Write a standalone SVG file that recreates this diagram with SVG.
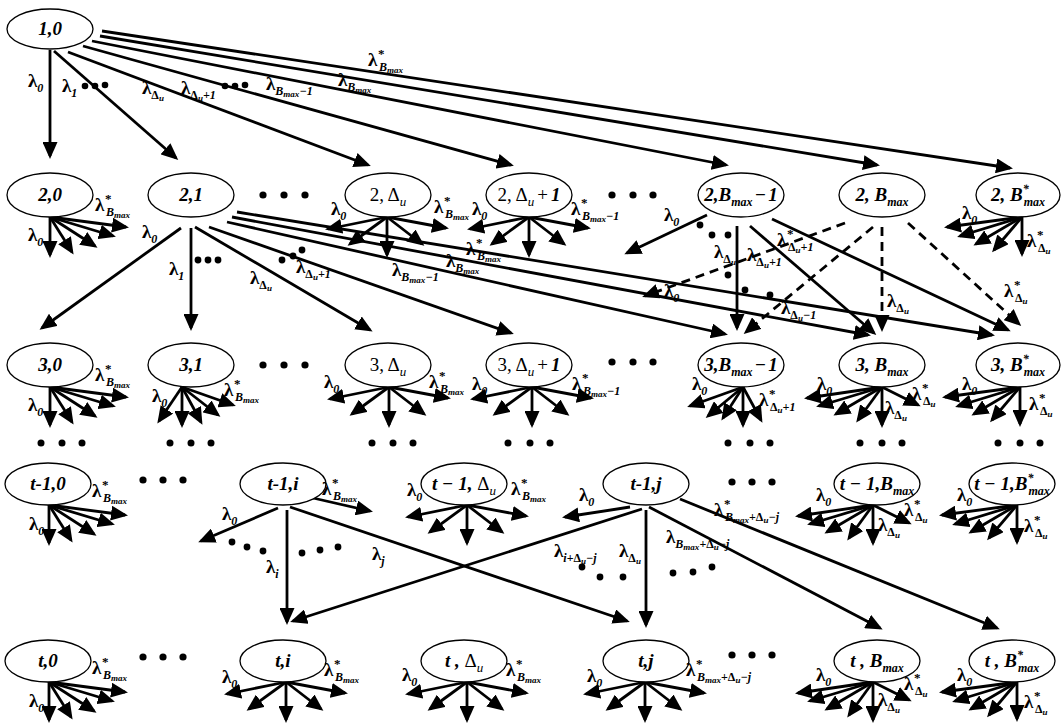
<svg xmlns="http://www.w3.org/2000/svg" width="1061" height="726" viewBox="0 0 1061 726">
<style>
.n{fill:#fff;stroke:#000;stroke-width:1.3}
.a{fill:none;stroke:#000;stroke-width:2.8;marker-end:url(#ah)}
.d{stroke-dasharray:9 6}
.dt{fill:#000}
text{font-family:'Liberation Serif','Times New Roman',serif;fill:#000}
.t{font-size:19px;font-weight:bold;font-style:italic;text-anchor:middle}
.r{font-weight:normal;font-style:normal}
.bi{font-weight:bold;font-style:italic}
.m{font-size:12px;font-style:italic;font-weight:bold}
.mi{font-size:13px;font-style:italic;font-weight:normal}
.l{font-size:19px;font-weight:bold}
.s{font-size:12px;font-style:italic}
.u{font-size:12px;font-style:normal}
.ss{font-size:9px;font-style:italic}
.p{font-size:13px}
</style>
<defs>
<marker id="ah" markerUnits="userSpaceOnUse" markerWidth="17" markerHeight="15" refX="14" refY="7.5" orient="auto"><path d="M0,0 L17,7.5 L0,15 z" fill="#000"/></marker>
<g id="fA"><path class="a" d="M0,0L0,38"/><path class="a" d="M0,0L22,35"/><path class="a" d="M0,0L45,29"/><path class="a" d="M0,0L63,19"/><path class="a" d="M0,0L76,10"/></g>
<g id="fB"><path class="a" d="M0,0L-23,34"/><path class="a" d="M0,0L0,38"/><path class="a" d="M0,0L19,35"/><path class="a" d="M0,0L36,28"/><path class="a" d="M0,0L51,18"/></g>
<g id="fC"><path class="a" d="M0,0L-59,12"/><path class="a" d="M0,0L-37,27"/><path class="a" d="M0,0L0,38"/><path class="a" d="M0,0L35,27"/><path class="a" d="M0,0L59,11"/></g>
<g id="fD"><path class="a" d="M0,0L-75,10"/><path class="a" d="M0,0L-62,19"/><path class="a" d="M0,0L-46,27"/><path class="a" d="M0,0L-28,33"/><path class="a" d="M0,0L0,37"/></g>
<g id="fE"><path class="a" d="M0,0L-75,11"/><path class="a" d="M0,0L-63,19"/><path class="a" d="M0,0L-46,27"/><path class="a" d="M0,0L-24,33"/><path class="a" d="M0,0L0,38"/><path class="a" d="M0,0L36,18"/></g>
<g id="fF"><path class="a" d="M0,0L-53,19"/><path class="a" d="M0,0L-35,29"/><path class="a" d="M0,0L-20,31"/><path class="a" d="M0,0L0,38"/><path class="a" d="M0,0L18,33"/></g>
</defs>
<rect width="1061" height="726" fill="#fff"/>
<g id="connectors">
<path class="a" d="M50,50L50,156"/>
<path class="a" d="M54,51L176,158"/>
<path class="a" d="M68,52L368,165"/>
<path class="a" d="M83,46L511,165"/>
<path class="a" d="M92,41L726,165"/>
<path class="a" d="M100,36L877,165"/>
<path class="a" d="M102,31L1010,168"/>
<path class="a" d="M181,228L42,328"/>
<path class="a" d="M191,228L191,328"/>
<path class="a" d="M195,227L370,330"/>
<path class="a" d="M209,227L511,333"/>
<path class="a" d="M237,212L992,335"/>
<path class="a" d="M232,217L868,335"/>
<path class="a" d="M227,222L725,334"/>
<path class="a" d="M707,215L627,253"/>
<path class="a" d="M737,226L737,328"/>
<path class="a" d="M750,226L874,333"/>
<path class="a" d="M772,219L1008,330"/>
<path class="a d" d="M845,223L645,296"/>
<path class="a d" d="M873,227L746,332"/>
<path class="a d" d="M882,227L882,329"/>
<path class="a d" d="M908,223L1019,324"/>
<path class="a" d="M278,508L201,541"/>
<path class="a" d="M287,510L287,622"/>
<path class="a" d="M313,498L370,511"/>
<path class="a" d="M290,507L627,621"/>
<path class="a" d="M630,507L565,517"/>
<path class="a" d="M642,509L293,621"/>
<path class="a" d="M646,510L646,625"/>
<path class="a" d="M649,507L880,628"/>
<path class="a" d="M680,499L997,628"/>
<use href="#fA" x="50" y="217"/>
<use href="#fA" x="50" y="387"/>
<use href="#fA" x="49" y="505"/>
<use href="#fA" x="49" y="682"/>
<use href="#fB" x="182" y="387"/>
<use href="#fC" x="387" y="217"/>
<use href="#fC" x="529" y="217"/>
<use href="#fC" x="389" y="387"/>
<use href="#fC" x="532" y="387"/>
<use href="#fC" x="467" y="505"/>
<use href="#fC" x="467" y="682"/>
<use href="#fC" x="286" y="682"/>
<use href="#fC" x="645" y="682"/>
<use href="#fD" x="1022" y="217"/>
<use href="#fD" x="1020" y="387"/>
<use href="#fD" x="1017" y="505"/>
<use href="#fD" x="1017" y="682"/>
<use href="#fE" x="882" y="387"/>
<use href="#fE" x="873" y="505"/>
<use href="#fE" x="873" y="682"/>
<use href="#fF" x="743" y="387"/>
</g>
<g id="n-1-0"><ellipse class="n" cx="50" cy="29" rx="43" ry="20"/><text class="t" x="50" y="35">1,0</text></g>
<g id="n-2-0"><ellipse class="n" cx="50" cy="195" rx="43" ry="22"/><text class="t" x="50" y="201">2,0</text></g>
<g id="n-2-1"><ellipse class="n" cx="191" cy="195" rx="43" ry="22"/><text class="t" x="191" y="201">2,1</text></g>
<g id="n-2-du"><ellipse class="n" cx="388" cy="195" rx="43" ry="22"/><text class="t r" x="388" y="201">2, Δ<tspan class="mi" dy="5">u</tspan></text></g>
<g id="n-2-du1"><ellipse class="n" cx="529" cy="195" rx="43" ry="22"/><text class="t r" x="529" y="201">2, Δ<tspan class="mi" dy="5">u</tspan><tspan dx="3" dy="-5">+</tspan><tspan class="bi" dx="3">1</tspan></text></g>
<g id="n-2-bm1"><ellipse class="n" cx="741" cy="195" rx="43" ry="22"/><text class="t" x="741" y="201">2,B<tspan class="m" dy="5">max</tspan><tspan dx="2" dy="-5">−</tspan><tspan dx="2">1</tspan></text></g>
<g id="n-2-bm"><ellipse class="n" cx="882" cy="195" rx="43" ry="22"/><text class="t" x="882" y="201">2, B<tspan class="m" dy="5">max</tspan></text></g>
<g id="n-2-bs"><ellipse class="n" cx="1018" cy="195" rx="42" ry="22"/><text class="t" x="1018" y="201">2, B<tspan class="m" dy="-8">*</tspan><tspan class="m" dx="-5" dy="13">max</tspan></text></g>
<g id="n-3-0"><ellipse class="n" cx="50" cy="365" rx="43" ry="22"/><text class="t" x="50" y="371">3,0</text></g>
<g id="n-3-1"><ellipse class="n" cx="191" cy="365" rx="43" ry="22"/><text class="t" x="191" y="371">3,1</text></g>
<g id="n-3-du"><ellipse class="n" cx="388" cy="365" rx="43" ry="22"/><text class="t r" x="388" y="371">3, Δ<tspan class="mi" dy="5">u</tspan></text></g>
<g id="n-3-du1"><ellipse class="n" cx="529" cy="365" rx="43" ry="22"/><text class="t r" x="529" y="371">3, Δ<tspan class="mi" dy="5">u</tspan><tspan dx="3" dy="-5">+</tspan><tspan class="bi" dx="3">1</tspan></text></g>
<g id="n-3-bm1"><ellipse class="n" cx="741" cy="365" rx="43" ry="22"/><text class="t" x="741" y="371">3,B<tspan class="m" dy="5">max</tspan><tspan dx="2" dy="-5">−</tspan><tspan dx="2">1</tspan></text></g>
<g id="n-3-bm"><ellipse class="n" cx="882" cy="365" rx="43" ry="22"/><text class="t" x="882" y="371">3, B<tspan class="m" dy="5">max</tspan></text></g>
<g id="n-3-bs"><ellipse class="n" cx="1018" cy="365" rx="42" ry="22"/><text class="t" x="1018" y="371">3, B<tspan class="m" dy="-8">*</tspan><tspan class="m" dx="-5" dy="13">max</tspan></text></g>
<g id="n-t1-0"><ellipse class="n" cx="48" cy="484" rx="43" ry="21"/><text class="t" x="48" y="490">t-1,0</text></g>
<g id="n-t1-i"><ellipse class="n" cx="283" cy="484" rx="43" ry="21"/><text class="t" x="283" y="490">t-1,i</text></g>
<g id="n-t1-du"><ellipse class="n" cx="464" cy="484" rx="43" ry="21"/><text class="t" x="464" y="490">t − 1, <tspan class="r">Δ</tspan><tspan class="mi" dy="5">u</tspan></text></g>
<g id="n-t1-j"><ellipse class="n" cx="646" cy="484" rx="43" ry="21"/><text class="t" x="646" y="490">t-1,j</text></g>
<g id="n-t1-bm"><ellipse class="n" cx="877" cy="484" rx="43" ry="21"/><text class="t" x="877" y="490">t − 1,B<tspan class="m" dy="5">max</tspan></text></g>
<g id="n-t1-bs"><ellipse class="n" cx="1012" cy="484" rx="43" ry="21"/><text class="t" x="1012" y="490">t − 1,B<tspan class="m" dy="-8">*</tspan><tspan class="m" dx="-5" dy="13">max</tspan></text></g>
<g id="n-t-0"><ellipse class="n" cx="48" cy="661" rx="43" ry="21"/><text class="t" x="48" y="667">t,0</text></g>
<g id="n-t-i"><ellipse class="n" cx="283" cy="661" rx="43" ry="21"/><text class="t" x="283" y="667">t,i</text></g>
<g id="n-t-du"><ellipse class="n" cx="464" cy="661" rx="43" ry="21"/><text class="t" x="464" y="667">t , <tspan class="r">Δ</tspan><tspan class="mi" dy="5">u</tspan></text></g>
<g id="n-t-j"><ellipse class="n" cx="646" cy="661" rx="43" ry="21"/><text class="t" x="646" y="667">t,j</text></g>
<g id="n-t-bm"><ellipse class="n" cx="877" cy="661" rx="43" ry="21"/><text class="t" x="877" y="667">t , B<tspan class="m" dy="5">max</tspan></text></g>
<g id="n-t-bs"><ellipse class="n" cx="1012" cy="661" rx="43" ry="21"/><text class="t" x="1012" y="667">t , B<tspan class="m" dy="-8">*</tspan><tspan class="m" dx="-5" dy="13">max</tspan></text></g>
<g id="dots">
<circle class="dt" cx="85" cy="86" r="3.3"/><circle class="dt" cx="95" cy="86" r="3.3"/><circle class="dt" cx="105" cy="85" r="3.3"/>
<circle class="dt" cx="225" cy="86" r="3.3"/><circle class="dt" cx="235" cy="86" r="3.3"/><circle class="dt" cx="245" cy="85" r="3.3"/>
<circle class="dt" cx="263" cy="195" r="3.6"/><circle class="dt" cx="284" cy="195" r="3.6"/><circle class="dt" cx="305" cy="195" r="3.6"/>
<circle class="dt" cx="612" cy="195" r="3.6"/><circle class="dt" cx="633" cy="195" r="3.6"/><circle class="dt" cx="653" cy="195" r="3.6"/>
<circle class="dt" cx="263" cy="365" r="3.6"/><circle class="dt" cx="284" cy="365" r="3.6"/><circle class="dt" cx="305" cy="365" r="3.6"/>
<circle class="dt" cx="612" cy="362" r="3.6"/><circle class="dt" cx="633" cy="362" r="3.6"/><circle class="dt" cx="653" cy="362" r="3.6"/>
<circle class="dt" cx="41" cy="443" r="3.5"/><circle class="dt" cx="62" cy="443" r="3.5"/><circle class="dt" cx="82" cy="443" r="3.5"/>
<circle class="dt" cx="170" cy="443" r="3.5"/><circle class="dt" cx="191" cy="443" r="3.5"/><circle class="dt" cx="211" cy="443" r="3.5"/>
<circle class="dt" cx="372" cy="443" r="3.5"/><circle class="dt" cx="393" cy="443" r="3.5"/><circle class="dt" cx="413" cy="443" r="3.5"/>
<circle class="dt" cx="508" cy="443" r="3.5"/><circle class="dt" cx="530" cy="443" r="3.5"/><circle class="dt" cx="550" cy="443" r="3.5"/>
<circle class="dt" cx="728" cy="443" r="3.5"/><circle class="dt" cx="750" cy="443" r="3.5"/><circle class="dt" cx="770" cy="443" r="3.5"/>
<circle class="dt" cx="860" cy="443" r="3.5"/><circle class="dt" cx="882" cy="443" r="3.5"/><circle class="dt" cx="902" cy="443" r="3.5"/>
<circle class="dt" cx="998" cy="443" r="3.5"/><circle class="dt" cx="1020" cy="443" r="3.5"/><circle class="dt" cx="1040" cy="443" r="3.5"/>
<circle class="dt" cx="143" cy="480" r="3.6"/><circle class="dt" cx="163" cy="480" r="3.6"/><circle class="dt" cx="183" cy="480" r="3.6"/>
<circle class="dt" cx="732" cy="482" r="3.6"/><circle class="dt" cx="752" cy="482" r="3.6"/><circle class="dt" cx="772" cy="482" r="3.6"/>
<circle class="dt" cx="143" cy="657" r="3.6"/><circle class="dt" cx="163" cy="657" r="3.6"/><circle class="dt" cx="183" cy="657" r="3.6"/>
<circle class="dt" cx="732" cy="655" r="3.6"/><circle class="dt" cx="752" cy="655" r="3.6"/><circle class="dt" cx="772" cy="655" r="3.6"/>
<circle class="dt" cx="198" cy="260" r="3.4"/><circle class="dt" cx="208" cy="260" r="3.4"/><circle class="dt" cx="218" cy="260" r="3.4"/>
<circle class="dt" cx="282" cy="260" r="3.4"/><circle class="dt" cx="293" cy="256" r="3.4"/><circle class="dt" cx="302" cy="250" r="3.4"/>
<circle class="dt" cx="700" cy="225" r="3.4"/><circle class="dt" cx="712" cy="235" r="3.4"/><circle class="dt" cx="728" cy="235" r="3.4"/>
<circle class="dt" cx="728" cy="275" r="3.4"/><circle class="dt" cx="745" cy="290" r="3.4"/><circle class="dt" cx="770" cy="295" r="3.4"/>
<circle class="dt" cx="232" cy="542" r="3.4"/><circle class="dt" cx="247" cy="547" r="3.4"/><circle class="dt" cx="263" cy="551" r="3.4"/>
<circle class="dt" cx="302" cy="553" r="3.4"/><circle class="dt" cx="320" cy="550" r="3.4"/><circle class="dt" cx="338" cy="547" r="3.4"/>
<circle class="dt" cx="582" cy="567" r="3.4"/><circle class="dt" cx="600" cy="577" r="3.4"/><circle class="dt" cx="623" cy="577" r="3.4"/>
<circle class="dt" cx="673" cy="573" r="3.4"/><circle class="dt" cx="693" cy="572" r="3.4"/><circle class="dt" cx="712" cy="567" r="3.4"/>
</g>
<g id="labels">
<text class="l" x="28" y="87">λ<tspan class="s" dy="5">0</tspan></text>
<text class="l" x="62" y="92">λ<tspan class="s" dy="5">1</tspan></text>
<text class="l" x="142" y="94">λ<tspan class="u" dy="5">Δ</tspan><tspan class="ss" dy="2">u</tspan></text>
<text class="l" x="181" y="94">λ<tspan class="u" dy="5">Δ</tspan><tspan class="ss" dy="2">u</tspan><tspan class="s" dy="-2">+1</tspan></text>
<text class="l" x="266" y="90">λ<tspan class="s" dy="5">B</tspan><tspan class="ss" dy="2">max</tspan><tspan class="s" dy="-2">−1</tspan></text>
<text class="l" x="338" y="86">λ<tspan class="s" dy="5">B</tspan><tspan class="ss" dy="2">max</tspan></text>
<text class="l" x="368" y="66">λ<tspan class="p" x="378" y="58">*</tspan><tspan class="s" x="379" y="71">B</tspan><tspan class="ss" dy="2">max</tspan></text>

<text class="l" x="28" y="241">λ<tspan class="s" dy="5">0</tspan></text>
<text class="l" x="95" y="211">λ<tspan class="p" x="105" y="203">*</tspan><tspan class="s" x="106" y="216">B</tspan><tspan class="ss" dy="2">max</tspan></text>

<text class="l" x="142" y="238">λ<tspan class="s" dy="5">0</tspan></text>
<text class="l" x="169" y="275">λ<tspan class="s" dy="5">1</tspan></text>
<text class="l" x="250" y="284">λ<tspan class="u" dy="5">Δ</tspan><tspan class="ss" dy="2">u</tspan></text>
<text class="l" x="296" y="273">λ<tspan class="u" dy="5">Δ</tspan><tspan class="ss" dy="2">u</tspan><tspan class="s" dy="-2">+1</tspan></text>
<text class="l" x="466" y="255">λ<tspan class="p" x="476" y="247">*</tspan><tspan class="s" x="477" y="260">B</tspan><tspan class="ss" dy="2">max</tspan></text>
<text class="l" x="446" y="267">λ<tspan class="s" dy="5">B</tspan><tspan class="ss" dy="2">max</tspan></text>
<text class="l" x="392" y="276">λ<tspan class="s" dy="5">B</tspan><tspan class="ss" dy="2">max</tspan><tspan class="s" dy="-2">−1</tspan></text>

<text class="l" x="331" y="215">λ<tspan class="s" dy="5">0</tspan></text>
<text class="l" x="434" y="213">λ<tspan class="p" x="444" y="205">*</tspan><tspan class="s" x="445" y="218">B</tspan><tspan class="ss" dy="2">max</tspan></text>
<text class="l" x="472" y="215">λ<tspan class="s" dy="5">0</tspan></text>
<text class="l" x="571" y="215">λ<tspan class="p" x="581" y="207">*</tspan><tspan class="s" x="582" y="220">B</tspan><tspan class="ss" dy="2">max</tspan><tspan class="s" dy="-2">−1</tspan></text>

<text class="l" x="664" y="221">λ<tspan class="s" dy="5">0</tspan></text>
<text class="l" x="714" y="258">λ<tspan class="u" dy="5">Δ</tspan><tspan class="ss" dy="2">u</tspan></text>
<text class="l" x="747" y="261">λ<tspan class="u" dy="5">Δ</tspan><tspan class="ss" dy="2">u</tspan><tspan class="s" dy="-2">+1</tspan></text>
<text class="l" x="777" y="246">λ<tspan class="p" x="787" y="238">*</tspan><tspan class="u" x="788" y="251">Δ</tspan><tspan class="ss" dy="2">u</tspan><tspan class="s" dy="-2">+1</tspan></text>

<text class="l" x="664" y="297">λ<tspan class="s" dy="5">0</tspan></text>
<text class="l" x="781" y="314">λ<tspan class="u" dy="5">Δ</tspan><tspan class="ss" dy="2">u</tspan><tspan class="s" dy="-2">−1</tspan></text>
<text class="l" x="887" y="307">λ<tspan class="u" dy="5">Δ</tspan><tspan class="ss" dy="2">u</tspan></text>
<text class="l" x="1004" y="297">λ<tspan class="p" x="1014" y="289">*</tspan><tspan class="u" x="1015" y="302">Δ</tspan><tspan class="ss" dy="2">u</tspan></text>

<text class="l" x="962" y="219">λ<tspan class="s" dy="5">0</tspan></text>
<text class="l" x="1027" y="247">λ<tspan class="p" x="1037" y="239">*</tspan><tspan class="u" x="1038" y="252">Δ</tspan><tspan class="ss" dy="2">u</tspan></text>

<text class="l" x="28" y="411">λ<tspan class="s" dy="5">0</tspan></text>
<text class="l" x="95" y="381">λ<tspan class="p" x="105" y="373">*</tspan><tspan class="s" x="106" y="386">B</tspan><tspan class="ss" dy="2">max</tspan></text>
<text class="l" x="152" y="402">λ<tspan class="s" dy="5">0</tspan></text>
<text class="l" x="224" y="396">λ<tspan class="p" x="234" y="388">*</tspan><tspan class="s" x="235" y="401">B</tspan><tspan class="ss" dy="2">max</tspan></text>
<text class="l" x="324" y="388">λ<tspan class="s" dy="5">0</tspan></text>
<text class="l" x="429" y="388">λ<tspan class="p" x="439" y="380">*</tspan><tspan class="s" x="440" y="393">B</tspan><tspan class="ss" dy="2">max</tspan></text>
<text class="l" x="472" y="390">λ<tspan class="s" dy="5">0</tspan></text>
<text class="l" x="572" y="390">λ<tspan class="p" x="582" y="382">*</tspan><tspan class="s" x="583" y="395">B</tspan><tspan class="ss" dy="2">max</tspan><tspan class="s" dy="-2">−1</tspan></text>
<text class="l" x="692" y="390">λ<tspan class="s" dy="5">0</tspan></text>
<text class="l" x="759" y="406">λ<tspan class="p" x="769" y="398">*</tspan><tspan class="u" x="770" y="411">Δ</tspan><tspan class="ss" dy="2">u</tspan><tspan class="s" dy="-2">+1</tspan></text>
<text class="l" x="817" y="390">λ<tspan class="s" dy="5">0</tspan></text>
<text class="l" x="885" y="414">λ<tspan class="u" dy="5">Δ</tspan><tspan class="ss" dy="2">u</tspan></text>
<text class="l" x="912" y="400">λ<tspan class="p" x="922" y="392">*</tspan><tspan class="u" x="923" y="405">Δ</tspan><tspan class="ss" dy="2">u</tspan></text>
<text class="l" x="962" y="390">λ<tspan class="s" dy="5">0</tspan></text>
<text class="l" x="1029" y="410">λ<tspan class="p" x="1039" y="402">*</tspan><tspan class="u" x="1040" y="415">Δ</tspan><tspan class="ss" dy="2">u</tspan></text>

<text class="l" x="29" y="530">λ<tspan class="s" dy="5">0</tspan></text>
<text class="l" x="92" y="497">λ<tspan class="p" x="102" y="489">*</tspan><tspan class="s" x="103" y="502">B</tspan><tspan class="ss" dy="2">max</tspan></text>
<text class="l" x="222" y="520">λ<tspan class="s" dy="5">0</tspan></text>
<text class="l" x="266" y="573">λ<tspan class="s" dy="5">i</tspan></text>
<text class="l" x="322" y="495">λ<tspan class="p" x="332" y="487">*</tspan><tspan class="s" x="333" y="500">B</tspan><tspan class="ss" dy="2">max</tspan></text>
<text class="l" x="372" y="560">λ<tspan class="s" dy="5">j</tspan></text>
<text class="l" x="407" y="496">λ<tspan class="s" dy="5">0</tspan></text>
<text class="l" x="511" y="495">λ<tspan class="p" x="521" y="487">*</tspan><tspan class="s" x="522" y="500">B</tspan><tspan class="ss" dy="2">max</tspan></text>
<text class="l" x="579" y="501">λ<tspan class="s" dy="5">0</tspan></text>
<text class="l" x="554" y="557">λ<tspan class="s" dy="5">i</tspan><tspan class="u">+Δ</tspan><tspan class="ss" dy="2">u</tspan><tspan class="s" dy="-2">−j</tspan></text>
<text class="l" x="619" y="557">λ<tspan class="u" dy="5">Δ</tspan><tspan class="ss" dy="2">u</tspan></text>
<text class="l" x="666" y="543">λ<tspan class="s" dy="5">B</tspan><tspan class="ss" dy="2">max</tspan><tspan class="u" dy="-2">+Δ</tspan><tspan class="ss" dy="2">u</tspan><tspan class="s" dy="-2">−j</tspan></text>
<text class="l" x="714" y="516">λ<tspan class="p" x="724" y="508">*</tspan><tspan class="s" x="725" y="521">B</tspan><tspan class="ss" dy="2">max</tspan><tspan class="u" dy="-2">+Δ</tspan><tspan class="ss" dy="2">u</tspan><tspan class="s" dy="-2">−j</tspan></text>
<text class="l" x="816" y="501">λ<tspan class="s" dy="5">0</tspan></text>
<text class="l" x="904" y="516">λ<tspan class="p" x="914" y="508">*</tspan><tspan class="u" x="915" y="521">Δ</tspan><tspan class="ss" dy="2">u</tspan></text>
<text class="l" x="878" y="531">λ<tspan class="u" dy="5">Δ</tspan><tspan class="ss" dy="2">u</tspan></text>
<text class="l" x="957" y="501">λ<tspan class="s" dy="5">0</tspan></text>
<text class="l" x="1024" y="532">λ<tspan class="p" x="1034" y="524">*</tspan><tspan class="u" x="1035" y="537">Δ</tspan><tspan class="ss" dy="2">u</tspan></text>

<text class="l" x="29" y="707">λ<tspan class="s" dy="5">0</tspan></text>
<text class="l" x="92" y="674">λ<tspan class="p" x="102" y="666">*</tspan><tspan class="s" x="103" y="679">B</tspan><tspan class="ss" dy="2">max</tspan></text>
<text class="l" x="222" y="683">λ<tspan class="s" dy="5">0</tspan></text>
<text class="l" x="324" y="676">λ<tspan class="p" x="334" y="668">*</tspan><tspan class="s" x="335" y="681">B</tspan><tspan class="ss" dy="2">max</tspan></text>
<text class="l" x="402" y="681">λ<tspan class="s" dy="5">0</tspan></text>
<text class="l" x="506" y="676">λ<tspan class="p" x="516" y="668">*</tspan><tspan class="s" x="517" y="681">B</tspan><tspan class="ss" dy="2">max</tspan></text>
<text class="l" x="587" y="682">λ<tspan class="s" dy="5">0</tspan></text>
<text class="l" x="686" y="676">λ<tspan class="p" x="696" y="668">*</tspan><tspan class="s" x="697" y="681">B</tspan><tspan class="ss" dy="2">max</tspan><tspan class="u" dy="-2">+Δ</tspan><tspan class="ss" dy="2">u</tspan><tspan class="s" dy="-2">−j</tspan></text>
<text class="l" x="816" y="681">λ<tspan class="s" dy="5">0</tspan></text>
<text class="l" x="904" y="690">λ<tspan class="p" x="914" y="682">*</tspan><tspan class="u" x="915" y="695">Δ</tspan><tspan class="ss" dy="2">u</tspan></text>
<text class="l" x="878" y="706">λ<tspan class="u" dy="5">Δ</tspan><tspan class="ss" dy="2">u</tspan></text>
<text class="l" x="957" y="681">λ<tspan class="s" dy="5">0</tspan></text>
<text class="l" x="1024" y="708">λ<tspan class="p" x="1034" y="700">*</tspan><tspan class="u" x="1035" y="713">Δ</tspan><tspan class="ss" dy="2">u</tspan></text>
</g>
</svg>
